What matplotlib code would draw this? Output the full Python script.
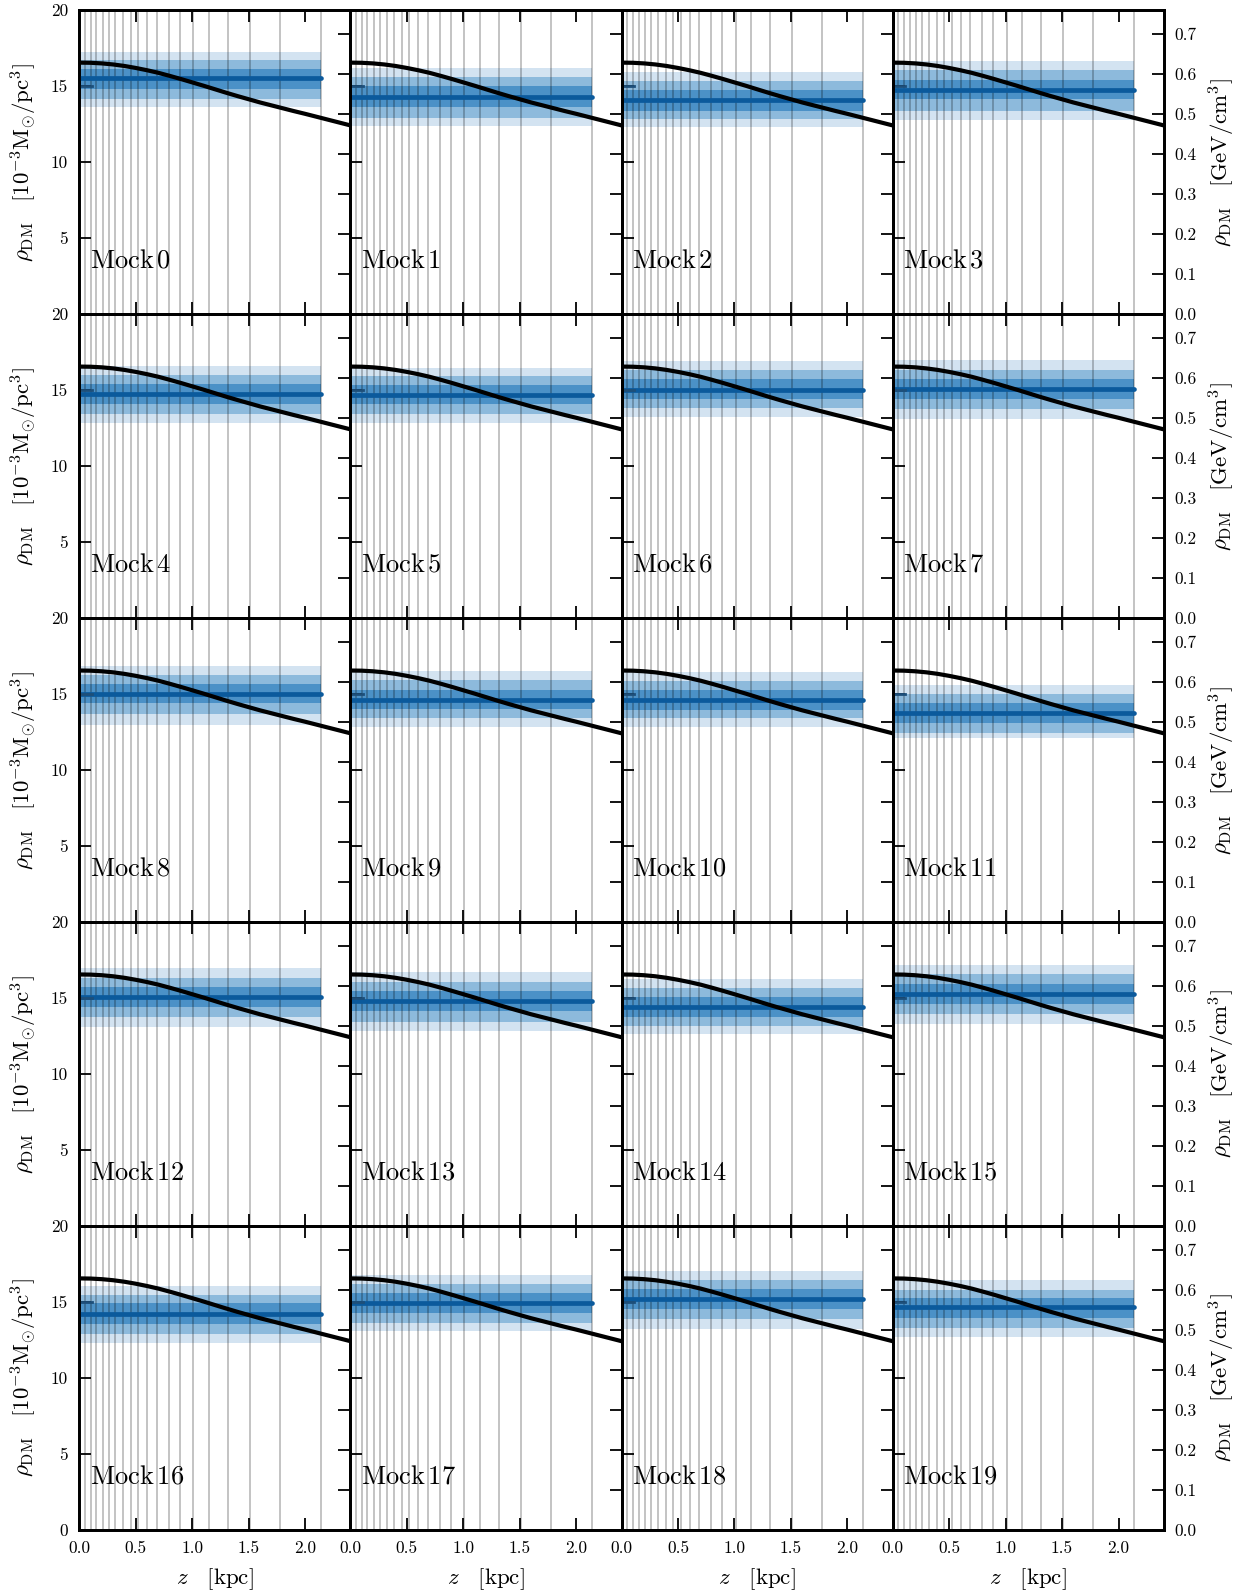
import numpy as np
import matplotlib
matplotlib.use('Agg')
import matplotlib.pyplot as plt

plt.rcParams['font.family'] = 'serif'
plt.rcParams['font.serif'] = ['cmr10']
plt.rcParams['mathtext.fontset'] = 'cm'
plt.rcParams['axes.unicode_minus'] = False

# bin edges (kpc) drawn as thin vertical lines
bin_edges = [0.05, 0.103, 0.151, 0.21, 0.263, 0.32, 0.39, 0.458, 0.523, 0.602,
             0.685, 0.791, 0.892, 1.01, 1.145, 1.317, 1.512, 1.778, 2.14]

# true dark matter density profile (1e-3 Msun/pc^3)
z_true = [0.0, 0.1, 0.2, 0.3, 0.4, 0.5, 0.6, 0.7, 0.8, 0.9, 1.0, 1.1, 1.2,
          1.3, 1.4, 1.5, 1.6, 1.7, 1.8, 1.9, 2.0, 2.1, 2.2, 2.3, 2.4]
rho_true = [16.55, 16.54, 16.50, 16.43, 16.33, 16.20, 16.05, 15.88, 15.68, 15.47,
            15.25, 15.03, 14.80, 14.57, 14.35, 14.14, 13.93, 13.74, 13.55, 13.36,
            13.18, 12.99, 12.80, 12.61, 12.42]

# posterior of the (constant) dark matter density for each mock
median = [15.51, 14.28, 14.11, 14.76, 14.76, 14.65, 15.03, 15.07, 15.03, 14.61,
          14.61, 13.73, 15.07, 14.83, 14.39, 15.25, 14.24, 14.94, 15.20, 14.65]
inner_lo = [14.83, 13.62, 13.40, 14.17, 14.06, 14.06, 14.39, 14.39, 14.39, 14.00,
            13.95, 13.07, 14.39, 14.17, 13.73, 14.61, 13.58, 14.28, 14.54, 13.95]
inner_hi = [16.15, 14.98, 14.72, 15.42, 15.38, 15.33, 15.71, 15.71, 15.66, 15.27,
            15.27, 14.39, 15.71, 15.49, 15.05, 15.93, 14.94, 15.60, 15.86, 15.27]
mid_lo = [14.17, 12.92, 12.86, 13.40, 13.45, 13.40, 13.84, 13.73, 13.67, 13.40,
          13.40, 12.42, 13.73, 13.45, 13.18, 13.95, 12.92, 13.62, 13.89, 13.29]
mid_hi = [16.74, 15.60, 15.33, 16.04, 15.99, 15.93, 16.30, 16.30, 16.26, 15.93,
          15.86, 14.98, 16.30, 16.08, 15.66, 16.58, 15.49, 16.21, 16.47, 15.82]
outer_lo = [13.62, 12.35, 12.30, 12.79, 12.86, 12.86, 13.23, 13.08, 12.97, 12.86,
            12.81, 12.11, 13.08, 12.86, 12.64, 13.29, 12.31, 13.08, 13.23, 12.70]
outer_hi = [17.24, 16.19, 15.93, 16.69, 16.58, 16.47, 16.91, 16.96, 16.87, 16.54,
            16.47, 15.60, 16.96, 16.69, 16.26, 17.20, 16.08, 16.76, 17.07, 16.47]

local_rho = 15.0     # short marker at the midplane
local_zmax = 0.11

conv = 0.038  # 1e-3 Msun/pc^3 -> GeV/cm^3

xticks = [0.0, 0.5, 1.0, 1.5, 2.0]
xticklabels = ['0.0', '0.5', '1.0', '1.5', '2.0']
yticks = [0, 5, 10, 15, 20]
gevticks = [0.0, 0.1, 0.2, 0.3, 0.4, 0.5, 0.6, 0.7]
gevlabels = ['0.0', '0.1', '0.2', '0.3', '0.4', '0.5', '0.6', '0.7']

fig, axes = plt.subplots(5, 4, figsize=(12.43, 15.95))
fig.subplots_adjust(left=0.0638, right=0.9362, top=0.9936, bottom=0.0408,
                    wspace=0, hspace=0)

zb = [0.0, bin_edges[-1]]
for i in range(20):
    row, col = divmod(i, 4)
    ax = axes[row, col]

    ax.fill_between(zb, outer_lo[i], outer_hi[i], color='#d3e3f1', lw=0, zorder=1)
    ax.fill_between(zb, mid_lo[i], mid_hi[i], color='#8dbadc', lw=0, zorder=1)
    ax.fill_between(zb, inner_lo[i], inner_hi[i], color='#4b91c7', lw=0, zorder=1)
    ax.plot(zb, [median[i], median[i]], color='#0b5a9c', lw=3.4,
            solid_capstyle='round', zorder=3)
    ax.plot([0, local_zmax], [local_rho, local_rho], color='#1d4f7a', lw=2, zorder=3)
    for e in bin_edges:
        ax.axvline(e, color='k', alpha=0.28, lw=1.2, zorder=2)
    ax.plot(z_true, rho_true, color='k', lw=3.0, zorder=5)

    ax.text(0.04, 0.175, r'$\mathrm{Mock}\,%d$' % i, transform=ax.transAxes,
            fontsize=19, va='center', ha='left', zorder=6)

    ax.set_xlim(0, 2.4)
    ax.set_ylim(0, 20)
    ax.set_xticks(xticks)
    ax.set_yticks(yticks)
    ax.tick_params(direction='in', length=8.5, width=1.3, top=True, right=False,
                   labelsize=12.5, pad=8)
    if row == 4:
        ax.set_xticklabels(xticklabels)
        ax.set_xlabel(r'$z\quad[{\rm kpc}]$', fontsize=16.5)
        ax.xaxis.set_label_coords(0.5, -0.118)
    else:
        ax.set_xticklabels([])
    if col == 0:
        labs = ['0' if row == 4 else '', '5', '10', '15', '20']
        ax.set_yticklabels(labs)
        ax.set_ylabel(r'$\rho_{\rm DM}\quad[10^{-3}{\rm M}_{\odot}/{\rm pc}^3]$',
                      fontsize=16.5)
        ax.yaxis.set_label_coords(-0.15, 0.5)
    else:
        ax.set_yticklabels([])

    ax2 = ax.twinx()
    ax2.set_ylim(0, 20 * conv)
    ax2.set_yticks(gevticks)
    ax2.tick_params(direction='in', length=8.5, width=1.3, labelsize=12.5, pad=8)
    if col == 3:
        ax2.set_yticklabels(gevlabels)
        ax2.set_ylabel(r'$\rho_{\rm DM}\quad[{\rm GeV}/{\rm cm}^3]$', fontsize=16.5)
        ax2.yaxis.set_label_coords(1.16, 0.5)
    else:
        ax2.set_yticklabels([])
    for a in (ax, ax2):
        for s in a.spines.values():
            s.set_linewidth(2.0)

plt.savefig('out.png', dpi=100)
